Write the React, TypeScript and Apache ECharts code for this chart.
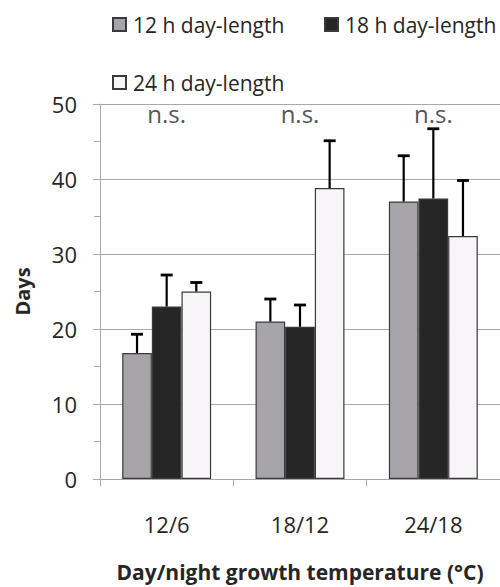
import React, { useEffect, useRef } from "react";
import * as echarts from "echarts";

const categories = ["12/6", "18/12", "24/18"];
const seriesNames = ["12 h day-length", "18 h day-length", "24 h day-length"];
const meansH12 = [16.8, 21.0, 37.0];
const meansH18 = [23.0, 20.3, 37.4];
const meansH24 = [25.0, 38.8, 32.4];
const errTopH12 = [19.3, 24.0, 43.1];
const errTopH18 = [27.2, 23.2, 46.7];
const errTopH24 = [26.2, 45.1, 39.8];
const nsLabels = ["n.s.", "n.s.", "n.s."];
const nsLevel = [48.8, 48.8, 48.8];
const yTicks = { min: 0, max: 50, interval: 10 };

const colors = ["#a6a4a8", "#262626", "#f8f5f8"];
const textColor = "#262626";
const gridColor = "#a8a8a8";
const font = "'Open Sans', sans-serif";

export default function App() {
  const ref = useRef<HTMLDivElement>(null);

  useEffect(() => {
    document.body.style.margin = "0";
    if (!ref.current) return;
    const chart = echarts.init(ref.current, undefined, { renderer: "svg" });

    const means = [meansH12, meansH18, meansH24];
    const errs = [errTopH12, errTopH18, errTopH24];

    const barSeries = seriesNames.map((name, si) => ({
      name,
      type: "bar",
      data: means[si],
      barGap: "0%",
      barCategoryGap: "33.3%",
      itemStyle: {
        color: colors[si],
        borderColor: "#3a3a3a",
        borderWidth: 1.2,
      },
      z: 2,
    }));

    const errData: number[][] = [];
    for (let si = 0; si < 3; si++) {
      for (let ci = 0; ci < categories.length; ci++) {
        errData.push([ci, means[si][ci], errs[si][ci], si]);
      }
    }

    const errorSeries = {
      type: "custom",
      name: "err",
      z: 5,
      data: errData,
      encode: { x: 0, y: [1, 2] },
      renderItem: (params: any, api: any) => {
        const ci = api.value(0);
        const v = api.value(1);
        const top = api.value(2);
        const si = api.value(3);
        const band = api.size([1, 0])[0];
        const barW = (band * (1 - 0.333)) / 3;
        const base = api.coord([ci, v]);
        const tp = api.coord([ci, top]);
        const x = base[0] + (si - 1) * barW;
        const capHalf = 6;
        return {
          type: "group",
          children: [
            {
              type: "line",
              shape: { x1: x, y1: base[1], x2: x, y2: tp[1] },
              style: { stroke: "#000", lineWidth: 2.2 },
            },
            {
              type: "line",
              shape: { x1: x - capHalf, y1: tp[1], x2: x + capHalf, y2: tp[1] },
              style: { stroke: "#000", lineWidth: 2.8 },
            },
          ],
        };
      },
    };

    const nsSeries = {
      type: "scatter",
      name: "ns",
      symbolSize: 0,
      z: 6,
      data: nsLevel.map((v, i) => [i, v]),
      label: {
        show: true,
        position: "inside",
        formatter: (p: any) => nsLabels[p.dataIndex],
        fontSize: 24,
        fontFamily: font,
        color: textColor,
      },
    };

    const legendText = {
      fontSize: 21,
      fontFamily: font,
      color: textColor,
      padding: [0, 0, 0, 2],
    };
    const legendBase = {
      icon: "rect",
      itemWidth: 13,
      itemHeight: 13,
      textStyle: legendText,
      selectedMode: false,
      orient: "horizontal",
    };

    chart.setOption({
      animation: false,
      backgroundColor: "#ffffff",
      legend: [
        { ...legendBase, data: [seriesNames[0]], left: 107, top: 9 },
        { ...legendBase, data: [seriesNames[1]], left: 319, top: 9 },
        { ...legendBase, data: [seriesNames[2]], left: 107, top: 67 },
      ],
      grid: { left: 100, top: 104, width: 405, height: 384 },
      xAxis: {
        type: "category",
        data: categories,
        name: "Day/night growth temperature (°C)",
        nameLocation: "middle",
        nameGap: 82,
        nameTextStyle: {
          fontSize: 21,
          fontWeight: "bold",
          fontFamily: font,
          color: textColor,
        },
        axisLine: { show: true, lineStyle: { color: gridColor, width: 1 } },
        axisTick: { show: true, length: 7, lineStyle: { color: gridColor } },
        axisLabel: {
          fontSize: 22,
          fontFamily: font,
          color: textColor,
          margin: 34,
        },
      },
      yAxis: {
        type: "value",
        min: yTicks.min,
        max: yTicks.max,
        interval: yTicks.interval,
        name: "Days",
        nameLocation: "middle",
        nameGap: 68,
        nameTextStyle: {
          fontSize: 20,
          fontWeight: "bold",
          fontFamily: font,
          color: textColor,
        },
        axisLine: { show: true, lineStyle: { color: gridColor, width: 1 } },
        axisTick: { show: true, length: 7, lineStyle: { color: gridColor } },
        minorTick: {
          show: true,
          splitNumber: 2,
          length: 6,
          lineStyle: { color: gridColor },
        },
        splitLine: { show: true, lineStyle: { color: gridColor, width: 1 } },
        axisLabel: {
          fontSize: 22,
          fontFamily: font,
          color: textColor,
          margin: 23,
        },
      },
      series: [...barSeries, errorSeries, nsSeries],
    });

    return () => chart.dispose();
  }, []);

  return (
    <div
      ref={ref}
      style={{ position: "fixed", left: 0, top: 0, width: 500, height: 587 }}
    />
  );
}
